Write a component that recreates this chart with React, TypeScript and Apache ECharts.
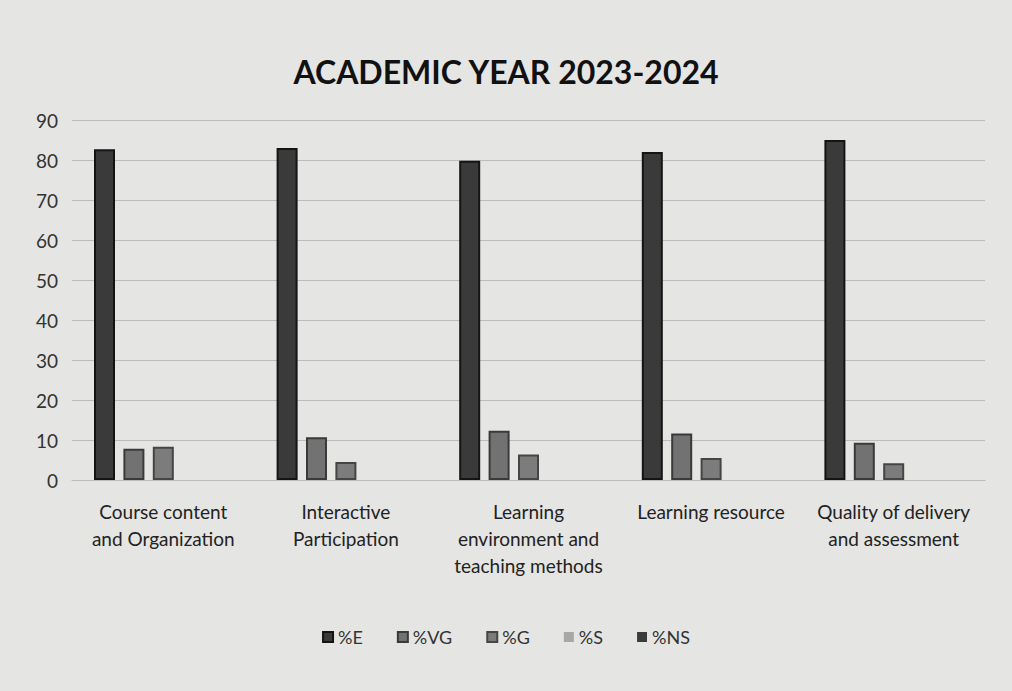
import React, { useEffect, useRef } from "react";
import * as echarts from "echarts";

const title = "ACADEMIC YEAR 2023-2024";
const categories = [
  "Course content and Organization",
  "Interactive Participation",
  "Learning environment and teaching methods",
  "Learning resource",
  "Quality of delivery and assessment",
];
const categoryLabels = [
  "Course content\nand Organization",
  "Interactive\nParticipation",
  "Learning\nenvironment and\nteaching methods",
  "Learning resource",
  "Quality of delivery\nand assessment",
];
const seriesNames = ["%E", "%VG", "%G", "%S", "%NS"];
const valuesE = [82.7, 83, 79.8, 82, 85];
const valuesVG = [7.8, 10.7, 12.3, 11.6, 9.3];
const valuesG = [8.3, 4.5, 6.4, 5.5, 4.2];
const valuesS = [0, 0, 0, 0, 0];
const valuesNS = [0, 0, 0, 0, 0];
const yTicks = { min: 0, max: 90, interval: 10 };

const fills = ["#3a3a3a", "#727272", "#7c7c7c", "#a8a8a8", "#3c3c3c"];
const borders = ["#141414", "#3a3a3a", "#454545", "#a8a8a8", "#3c3c3c"];
const borderWidths = [2, 2, 2, 0, 0];

export default function App() {
  const ref = useRef<HTMLDivElement>(null);
  useEffect(() => {
    if (!ref.current) return;
    const chart = echarts.init(ref.current, null, { renderer: "svg" });
    const font = "Lato, 'Liberation Sans', sans-serif";
    const allValues = [valuesE, valuesVG, valuesG, valuesS, valuesNS];
    chart.setOption({
      animation: false,
      backgroundColor: "#e5e5e3",
      textStyle: { fontFamily: font },
      title: {
        text: title,
        left: "center",
        top: 50,
        textStyle: { fontSize: 32, fontWeight: "bold", color: "#111", fontFamily: font },
      },
      legend: {
        data: seriesNames,
        bottom: 40,
        left: "center",
        itemWidth: 10,
        itemHeight: 10,
        itemGap: 34,
        icon: "rect",
        textStyle: { fontSize: 18, color: "#333", fontFamily: font },
      },
      grid: { left: 72, right: 27, top: 120, bottom: 211, containLabel: false },
      xAxis: {
        type: "category",
        data: categories,
        axisLine: { show: true, lineStyle: { color: "#bbbbbb", width: 1 } },
        axisTick: { show: false },
        axisLabel: {
          interval: 0,
          margin: 18,
          fontSize: 19,
          lineHeight: 27,
          color: "#222",
          fontFamily: font,
          formatter: (v: string) => categoryLabels[categories.indexOf(v)] ?? v,
        },
      },
      yAxis: {
        type: "value",
        min: yTicks.min,
        max: yTicks.max,
        interval: yTicks.interval,
        axisLine: { show: false },
        axisTick: { show: false },
        axisLabel: { fontSize: 19, color: "#333", margin: 14, fontFamily: font },
        splitLine: { lineStyle: { color: "#bbbbbb", width: 1 } },
      },
      series: seriesNames.map((name, i) => ({
        name,
        type: "bar",
        data: allValues[i],
        barWidth: 21,
        barGap: "40%",
        itemStyle: { color: fills[i], borderColor: borders[i], borderWidth: borderWidths[i] },
      })),
    });
    return () => chart.dispose();
  }, []);
  return (
    <div
      ref={ref}
      style={{ position: "fixed", left: 0, top: 0, width: 1012, height: 691 }}
    />
  );
}
